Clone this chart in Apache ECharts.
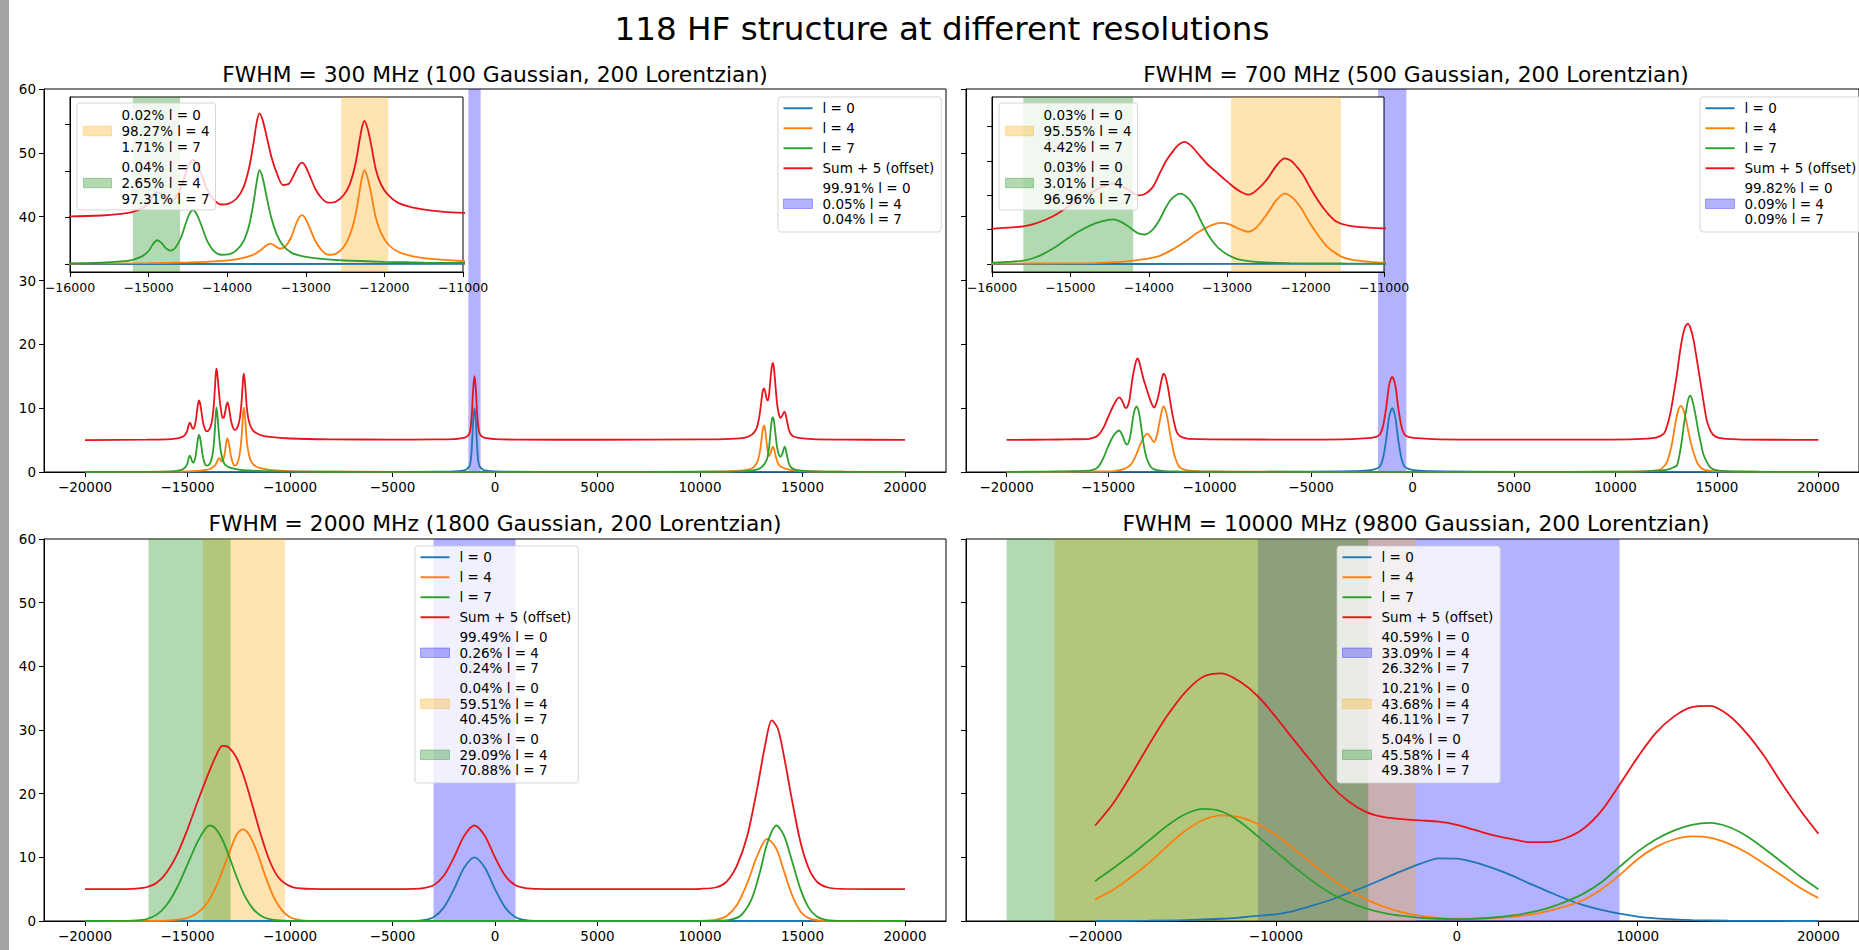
<!DOCTYPE html>
<html><head><meta charset="utf-8">
<script src="https://cdn.jsdelivr.net/npm/echarts@6/dist/echarts.min.js"></script>
<style>html,body{margin:0;padding:0;background:#fff;overflow:hidden}
#strip{position:absolute;left:0;top:0;width:9px;height:950px;background:#a3a3a3}
#c{position:absolute;left:0;top:0;width:1859px;height:950px}</style>
</head><body><div id="strip"></div><div id="c"></div>
<script>
// ---------------- tick labels ----------------
const xTicksMain = [-20000,-15000,-10000,-5000,0,5000,10000,15000,20000];
const xTicksWide = [-20000,-10000,0,10000,20000];
const xTicksInset = [-16000,-15000,-14000,-13000,-12000,-11000];
const yTicksInset300 = [0,5,10,15];
const yTicksInset700 = [0,5,10,15,20];

// ---------------- FWHM 300 ----------------
const blue300 = [[-20000,0],[-10000,0.01],[-5000,0.02],[-3000,0.04],[-2000,0.1],[-1600,0.2],[-1400,0.4],[-1250,0.9],[-1180,1.8],[-1125,4.2],[-1080,7.2],[-1040,9.0],[-1000,10],[-960,9.0],[-920,7.2],[-875,4.2],[-820,1.8],[-750,0.9],[-600,0.4],[-400,0.2],[0,0.1],[1000,0.04],[3000,0.02],[10000,0.01],[20000,0]];
const orange300 = [[-20000,0],[-17000,0.03],[-16000,0.05],[-15000,0.1],[-14500,0.18],[-14100,0.32],[-13850,0.55],[-13680,0.95],[-13580,1.45],[-13510,1.95],[-13450,2.2],[-13390,1.95],[-13330,1.65],[-13260,1.9],[-13190,2.8],[-13130,4.2],[-13085,5.0],[-13050,5.26],[-13010,4.95],[-12950,3.9],[-12880,2.5],[-12800,1.5],[-12715,1.0],[-12620,1.1],[-12520,1.8],[-12440,3.1],[-12370,5.2],[-12320,7.6],[-12285,9.3],[-12255,10.1],[-12215,9.3],[-12170,7.6],[-12110,5.0],[-12040,3.3],[-11950,2.1],[-11830,1.35],[-11650,0.85],[-11400,0.55],[-11000,0.33],[-10000,0.15],[-8000,0.06],[-5000,0.03],[0,0.02],[5000,0.02],[10000,0.05],[11500,0.12],[12200,0.3],[12550,0.6],[12750,1.3],[12880,2.5],[12980,4.5],[13050,6.5],[13090,7.1],[13125,7.26],[13170,6.8],[13230,5.2],[13300,3.3],[13370,2.5],[13440,2.9],[13510,3.7],[13560,3.97],[13610,3.6],[13690,2.5],[13780,1.55],[13880,1.0],[14000,0.75],[14200,0.5],[14500,0.3],[15000,0.16],[16000,0.08],[18000,0.03],[20000,0.01]];
const green300 = [[-20000,0],[-17000,0.03],[-16000,0.07],[-15600,0.14],[-15350,0.28],[-15200,0.46],[-15080,0.85],[-15000,1.4],[-14940,2.2],[-14890,2.56],[-14840,2.3],[-14780,1.7],[-14720,1.45],[-14660,1.75],[-14590,2.8],[-14530,4.3],[-14480,5.4],[-14435,5.8],[-14390,5.4],[-14330,4.2],[-14260,2.6],[-14180,1.5],[-14080,1.0],[-13980,1.05],[-13880,1.5],[-13790,2.5],[-13720,4.2],[-13665,6.6],[-13625,8.8],[-13590,10.1],[-13550,9.3],[-13500,7.3],[-13440,5.0],[-13370,3.2],[-13290,2.0],[-13180,1.2],[-13050,0.85],[-12860,0.6],[-12500,0.38],[-12000,0.24],[-11500,0.16],[-11000,0.12],[-10000,0.07],[-8000,0.04],[-5000,0.02],[0,0.02],[5000,0.02],[10000,0.04],[12000,0.1],[12500,0.2],[12800,0.4],[13000,0.75],[13150,1.3],[13284,2.2],[13360,3.6],[13420,5.6],[13480,7.6],[13530,8.5],[13565,8.57],[13610,7.9],[13680,6.0],[13760,3.9],[13850,2.7],[13930,2.4],[14010,2.8],[14080,3.6],[14130,3.97],[14180,3.6],[14250,2.5],[14330,1.4],[14420,0.8],[14550,0.48],[14800,0.25],[15500,0.1],[17000,0.04],[20000,0.01]];
const sum300 = [[-20000,5.0],[-17000,5.06],[-16000,5.12],[-15600,5.22],[-15350,5.4],[-15200,5.6],[-15080,6.0],[-15000,6.6],[-14940,7.4],[-14890,7.75],[-14840,7.5],[-14780,6.95],[-14720,6.75],[-14660,7.1],[-14590,8.2],[-14530,9.7],[-14480,10.8],[-14435,11.2],[-14390,10.8],[-14330,9.7],[-14260,8.1],[-14180,7.0],[-14080,6.4],[-13980,6.5],[-13880,7.05],[-13790,8.3],[-13720,10.4],[-13665,13.0],[-13625,15.2],[-13590,16.2],[-13550,15.5],[-13500,13.8],[-13440,11.6],[-13370,9.8],[-13290,8.5],[-13220,8.6],[-13150,9.6],[-13090,10.6],[-13050,10.9],[-13010,10.6],[-12950,9.5],[-12880,8.1],[-12800,7.1],[-12715,6.6],[-12620,6.7],[-12520,7.4],[-12440,8.6],[-12370,10.7],[-12320,13.1],[-12285,14.7],[-12255,15.4],[-12215,14.6],[-12170,12.9],[-12110,10.2],[-12040,8.5],[-11950,7.4],[-11830,6.6],[-11650,6.1],[-11400,5.75],[-11000,5.5],[-10000,5.25],[-8000,5.12],[-5000,5.08],[-3000,5.1],[-2000,5.15],[-1600,5.3],[-1400,5.5],[-1250,6.0],[-1180,7.2],[-1125,9.3],[-1080,12.2],[-1040,14.0],[-1000,15.0],[-960,14.0],[-920,12.2],[-875,9.3],[-820,7.2],[-750,6.0],[-600,5.5],[-400,5.3],[0,5.15],[1000,5.08],[5000,5.05],[10000,5.1],[11500,5.2],[12200,5.4],[12550,5.9],[12750,6.8],[12880,8.4],[12980,10.7],[13050,12.5],[13125,13.1],[13190,12.4],[13260,11.4],[13320,11.2],[13390,12.8],[13450,15.0],[13510,16.6],[13561,17.1],[13610,16.2],[13680,13.6],[13760,10.7],[13850,9.0],[13930,8.5],[14010,8.8],[14080,9.3],[14130,9.4],[14180,9.0],[14250,7.9],[14330,6.7],[14420,6.0],[14550,5.6],[14800,5.35],[15500,5.15],[17000,5.08],[20000,5.02]];

// ---------------- FWHM 700 ----------------
const blue700 = [[-20000,0],[-10000,0.02],[-5000,0.06],[-3000,0.12],[-2200,0.25],[-1800,0.5],[-1600,0.9],[-1450,2.2],[-1300,5.0],[-1150,8.6],[-1000,10],[-850,8.6],[-700,5.0],[-550,2.2],[-400,0.9],[-200,0.5],[200,0.25],[1000,0.12],[3000,0.06],[8000,0.02],[20000,0]];
const orange700 = [[-20000,0.01],[-17000,0.04],[-16000,0.06],[-15000,0.1],[-14712,0.14],[-14500,0.25],[-14286,0.4],[-14100,0.65],[-13950,0.95],[-13861,1.2],[-13700,2.1],[-13521,3.4],[-13400,4.4],[-13266,5.3],[-13160,5.8],[-13075,6.0],[-12980,5.8],[-12883,5.3],[-12800,4.9],[-12735,4.7],[-12640,5.2],[-12543,6.5],[-12450,8.0],[-12373,9.3],[-12267,10.26],[-12160,9.6],[-12050,8.0],[-11948,6.0],[-11840,4.2],[-11735,2.65],[-11620,1.6],[-11523,0.96],[-11400,0.6],[-11200,0.35],[-11000,0.2],[-10500,0.12],[-9000,0.06],[-5000,0.03],[5000,0.03],[10000,0.06],[11500,0.15],[12000,0.25],[12217,0.4],[12400,0.9],[12543,1.6],[12680,3.0],[12788,4.5],[12910,6.8],[13032,8.9],[13130,10.0],[13228,10.35],[13330,9.9],[13440,8.7],[13560,6.9],[13684,5.0],[13850,3.0],[14010,1.6],[14170,0.8],[14336,0.4],[14600,0.2],[15200,0.1],[17000,0.04],[20000,0.02]];
const green700 = [[-20000,0.02],[-18000,0.06],[-17000,0.1],[-16500,0.14],[-16000,0.2],[-15800,0.3],[-15600,0.5],[-15450,0.95],[-15350,1.45],[-15200,2.4],[-15050,3.6],[-14900,4.7],[-14750,5.6],[-14600,6.2],[-14456,6.5],[-14350,6.1],[-14240,5.3],[-14140,4.5],[-14050,4.3],[-13950,5.0],[-13860,6.5],[-13780,8.3],[-13700,9.6],[-13593,10.26],[-13500,9.6],[-13420,8.3],[-13340,6.4],[-13260,4.6],[-13180,3.2],[-13100,2.2],[-13000,1.4],[-12880,0.75],[-12750,0.45],[-12590,0.28],[-12200,0.14],[-11500,0.08],[-11000,0.06],[-10000,0.04],[-5000,0.02],[5000,0.02],[10000,0.04],[11500,0.1],[12300,0.25],[12700,0.5],[12900,0.8],[13032,1.05],[13150,2.6],[13276,5.0],[13380,7.6],[13488,9.7],[13580,11.3],[13684,11.96],[13790,11.2],[13929,9.2],[14060,6.8],[14206,4.5],[14340,2.7],[14499,1.6],[14650,0.8],[14825,0.4],[15100,0.2],[16000,0.08],[18000,0.03],[20000,0.02]];
const sum700 = [[-20000,5.03],[-18000,5.07],[-17000,5.12],[-16000,5.15],[-15800,5.3],[-15600,5.5],[-15450,5.9],[-15350,6.3],[-15200,7.1],[-15050,8.2],[-14900,9.3],[-14754,10.3],[-14600,11.2],[-14456,11.7],[-14350,11.4],[-14243,10.7],[-14137,10.0],[-14050,10.2],[-13950,11.2],[-13861,13.2],[-13780,15.0],[-13700,16.3],[-13620,17.4],[-13542,17.8],[-13460,17.2],[-13351,15.8],[-13250,14.5],[-13139,13.4],[-13030,12.3],[-12926,11.3],[-12822,10.5],[-12722,10.1],[-12620,10.8],[-12501,12.2],[-12400,13.9],[-12330,14.9],[-12267,15.4],[-12180,15.0],[-12100,14.0],[-12033,13.0],[-11930,10.9],[-11820,8.9],[-11720,7.4],[-11608,6.2],[-11450,5.6],[-11200,5.3],[-11000,5.2],[-10000,5.12],[-5000,5.08],[-3000,5.15],[-2200,5.3],[-1800,5.5],[-1600,5.9],[-1450,7.2],[-1300,10.0],[-1150,13.6],[-1000,14.9],[-850,13.6],[-700,10.0],[-550,7.2],[-400,5.9],[-200,5.5],[200,5.3],[1000,5.15],[3000,5.08],[8000,5.06],[11000,5.15],[12000,5.4],[12380,6.0],[12550,7.3],[12706,9.2],[12870,12.2],[13032,15.4],[13150,18.2],[13276,20.7],[13420,22.6],[13570,23.2],[13700,22.5],[13847,20.7],[14010,17.6],[14173,14.4],[14340,11.0],[14499,8.1],[14660,6.6],[14825,5.8],[15100,5.35],[16000,5.12],[18000,5.05],[20000,5.04]];

// ---------------- FWHM 2000 ----------------
const blue2000 = [[-20000,0],[-5000,0],[-4000,0.02],[-3500,0.12],[-3000,0.6],[-2500,2.1],[-2000,5.0],[-1500,8.4],[-1000,10.0],[-500,8.4],[0,5.0],[500,2.1],[1000,0.6],[1500,0.12],[2000,0.02],[3000,0],[20000,0]];
const orange2000 = [[-20000,0],[-16500,0.02],[-16000,0.06],[-15500,0.2],[-15000,0.5],[-14500,1.3],[-14000,3.0],[-13500,6.2],[-13000,10.4],[-12600,13.6],[-12300,14.4],[-12000,13.6],[-11600,10.8],[-11200,7.0],[-10800,3.8],[-10400,1.7],[-10000,0.6],[-9500,0.15],[-9000,0.03],[-8000,0],[9000,0],[10000,0.02],[10800,0.2],[11300,0.8],[11800,2.5],[12300,5.9],[12800,10.3],[13278,12.9],[13700,11.5],[14100,7.8],[14500,4.0],[14900,1.5],[15300,0.45],[15800,0.08],[16500,0.01],[20000,0]];
const green2000 = [[-20000,0],[-18500,0.01],[-17500,0.1],[-17000,0.3],[-16500,1.0],[-16000,2.6],[-15500,5.3],[-15000,8.9],[-14500,12.5],[-14100,14.6],[-13900,15.0],[-13600,14.4],[-13300,12.8],[-13000,10.4],[-12600,6.9],[-12200,3.9],[-11800,1.9],[-11400,0.8],[-11000,0.3],[-10500,0.08],[-10000,0.02],[-9000,0],[10000,0],[10800,0.02],[11500,0.2],[12000,0.9],[12500,3.3],[12900,7.4],[13300,12.4],[13726,15.0],[14100,13.4],[14500,9.3],[14900,5.0],[15300,2.1],[15700,0.7],[16200,0.15],[17000,0.02],[20000,0]];
const sum2000 = [[-20000,5.0],[-18000,5.02],[-17500,5.1],[-17000,5.3],[-16500,6.0],[-16000,7.7],[-15500,10.5],[-15000,14.4],[-14500,18.8],[-14000,23.0],[-13600,26.0],[-13300,27.5],[-13000,27.3],[-12600,25.6],[-12200,22.2],[-11800,17.8],[-11400,13.3],[-11000,9.5],[-10600,7.0],[-10200,5.8],[-9800,5.25],[-9000,5.05],[-6000,5.0],[-4000,5.05],[-3500,5.15],[-3000,5.6],[-2500,7.1],[-2000,10.0],[-1500,13.4],[-1000,15.0],[-500,13.4],[0,10.0],[500,7.1],[1000,5.6],[1500,5.15],[2000,5.05],[3000,5.0],[9000,5.0],[10000,5.05],[10800,5.3],[11300,6.2],[11800,8.7],[12300,13.3],[12800,21.0],[13200,28.0],[13500,31.5],[13800,30.2],[14100,25.8],[14500,18.8],[14900,12.4],[15300,8.3],[15700,6.2],[16200,5.3],[17000,5.04],[20000,5.0]];

// ---------------- FWHM 10000 ----------------
const blue10000 = [[-20000,0.01],[-17000,0.05],[-15000,0.13],[-13000,0.35],[-12000,0.55],[-11000,0.8],[-10000,1.05],[-9000,1.6],[-8000,2.4],[-7000,3.3],[-6000,4.4],[-5000,5.5],[-4000,6.7],[-3000,7.9],[-2000,9.0],[-1000,9.85],[0,9.8],[1000,9.2],[2000,8.3],[3000,7.2],[4000,5.9],[5000,4.7],[6000,3.5],[7000,2.5],[8000,1.75],[9000,1.15],[10000,0.7],[11000,0.42],[12000,0.25],[13000,0.14],[15000,0.04],[17000,0.01],[20000,0]];
const orange10000 = [[-20000,3.4],[-19000,4.9],[-18000,6.9],[-17000,9.2],[-16000,11.8],[-15000,14.2],[-14000,15.9],[-13000,16.6],[-12000,16.3],[-11000,15.2],[-10000,13.5],[-9000,11.3],[-8000,9.0],[-7000,6.8],[-6000,4.9],[-5000,3.4],[-4000,2.2],[-3000,1.35],[-2000,0.8],[-1000,0.5],[0,0.35],[1000,0.35],[2000,0.45],[3000,0.65],[4000,0.95],[5000,1.5],[6000,2.3],[7000,3.3],[8000,5.0],[9000,7.2],[10000,9.7],[11000,11.6],[12000,12.8],[13000,13.3],[14000,13.1],[15000,12.2],[16000,10.8],[17000,9.0],[18000,7.1],[19000,5.2],[20000,3.6]];
const green10000 = [[-20000,6.3],[-19000,8.3],[-18000,10.4],[-17000,12.7],[-16000,15.0],[-15000,16.8],[-14000,17.6],[-13000,17.2],[-12000,15.6],[-11000,13.3],[-10000,10.9],[-9000,8.5],[-8000,6.3],[-7000,4.4],[-6000,3.0],[-5000,1.95],[-4000,1.25],[-3000,0.8],[-2000,0.5],[-1000,0.35],[0,0.3],[1000,0.35],[2000,0.55],[3000,0.85],[4000,1.3],[5000,2.0],[6000,3.0],[7000,4.3],[8000,6.1],[9000,8.5],[10000,10.9],[11000,12.8],[12000,14.2],[13000,15.1],[14000,15.4],[15000,14.8],[16000,13.4],[17000,11.4],[18000,9.2],[19000,7.0],[20000,5.0]];
const sum10000 = [[-20000,15.0],[-19000,18.5],[-18000,23.0],[-17000,27.8],[-16000,32.3],[-15000,36.0],[-14000,38.4],[-13000,38.9],[-12000,37.6],[-11000,35.3],[-10000,32.0],[-9000,28.4],[-8000,24.9],[-7000,21.4],[-6000,18.8],[-5000,17.1],[-4000,16.3],[-3000,16.0],[-2000,15.8],[-1000,15.6],[0,15.1],[1000,14.3],[2000,13.5],[3000,12.9],[4000,12.4],[5000,12.4],[6000,13.0],[7000,14.5],[8000,17.3],[9000,21.4],[10000,25.7],[11000,29.5],[12000,32.1],[13000,33.6],[14000,33.8],[15000,32.4],[16000,29.6],[17000,25.9],[18000,21.5],[19000,17.4],[20000,13.7]];

// ---------------- shaded windows [from, to] ----------------
const spanBlue300 = [-1300,-700], spanOrange300 = [-12550,-11950], spanGreen300 = [-15200,-14600];
const spanBlue700 = [-1700,-300], spanOrange700 = [-12950,-11550], spanGreen700 = [-15600,-14200];
const spanBlue2000 = [-3000,1000], spanOrange2000 = [-14250,-10250], spanGreen2000 = [-16900,-12900];
const spanBlue10000 = [-11000,9000], spanOrange10000 = [-22250,-2250], spanGreen10000 = [-24900,-4900];

// ---------------- legend fractions ----------------
const fracBlue300 = ['99.91%','0.05%','0.04%'], fracOrange300 = ['0.02%','98.27%','1.71%'], fracGreen300 = ['0.04%','2.65%','97.31%'];
const fracBlue700 = ['99.82%','0.09%','0.09%'], fracOrange700 = ['0.03%','95.55%','4.42%'], fracGreen700 = ['0.03%','3.01%','96.96%'];
const fracBlue2000 = ['99.49%','0.26%','0.24%'], fracOrange2000 = ['0.04%','59.51%','40.45%'], fracGreen2000 = ['0.03%','29.09%','70.88%'];
const fracBlue10000 = ['40.59%','33.09%','26.32%'], fracOrange10000 = ['10.21%','43.68%','46.11%'], fracGreen10000 = ['5.04%','45.58%','49.38%'];

const seriesNames = ['l = 0','l = 4','l = 7','Sum + 5 (offset)'];
const titles = ['FWHM = 300 MHz (100 Gaussian, 200 Lorentzian)','FWHM = 700 MHz (500 Gaussian, 200 Lorentzian)','FWHM = 2000 MHz (1800 Gaussian, 200 Lorentzian)','FWHM = 10000 MHz (9800 Gaussian, 200 Lorentzian)'];
const mainTitle = '118 HF structure at different resolutions';

// ---------------- styling / layout ----------------
const FONT = "'DejaVu Sans', sans-serif";
const COL = ['#1f77b4','#ff7f0e','#2ca02c','#e8141c'];
const SPANCOL = {b:'rgba(0,0,255,0.3)', o:'rgba(255,165,0,0.3)', g:'rgba(0,128,0,0.3)'};
const fracName = fr => fr.map((f,i)=>f+' '+seriesNames[i]).join('\n');
const fmt = v => v < 0 ? '\u2212' + Math.abs(v) : String(v);

const grids = [
  {left:44, top:89, width:902, height:383},
  {left:966, top:89, width:901, height:383},
  {left:44, top:539, width:902, height:382},
  {left:966, top:539, width:901, height:382},
  {left:70, top:97, width:393, height:175},
  {left:992, top:97, width:392, height:175}
];
const panels = [
  {curves:[blue300,orange300,green300,sum300], xr:[-22000,22000], ticks:xTicksMain, ylab:true,
   spans:[['b',spanBlue300,fracBlue300]], legend:{left:778, top:97}},
  {curves:[blue700,orange700,green700,sum700], xr:[-22000,22000], ticks:xTicksMain, ylab:false,
   spans:[['b',spanBlue700,fracBlue700]], legend:{left:1700, top:97}},
  {curves:[blue2000,orange2000,green2000,sum2000], xr:[-22000,22000], ticks:xTicksMain, ylab:true,
   spans:[['b',spanBlue2000,fracBlue2000],['o',spanOrange2000,fracOrange2000],['g',spanGreen2000,fracGreen2000]], legend:{left:415, top:546}},
  {curves:[blue10000,orange10000,green10000,sum10000], xr:[-27145,22245], ticks:xTicksWide, ylab:false,
   spans:[['b',spanBlue10000,fracBlue10000],['o',spanOrange10000,fracOrange10000],['g',spanGreen10000,fracGreen10000]], legend:{left:1337, top:546}}
];
const insets = [
  {of:0, yr:[-0.855,17.96], yt:yTicksInset300, spans:[['o',spanOrange300,fracOrange300],['g',spanGreen300,fracGreen300]], legend:{left:77, top:103}},
  {of:1, yr:[-1.16,24.33], yt:yTicksInset700, spans:[['o',spanOrange700,fracOrange700],['g',spanGreen700,fracGreen700]], legend:{left:999, top:103}}
];

const axisLineStyle = {color:'#000', width:1};
const xAxes = [], yAxes = [], series = [], legends = [], gridOpts = [];
grids.forEach((g,i)=>{
  const inset = i >= 4;
  gridOpts.push(Object.assign({show:true, borderColor:'#000', borderWidth:1,
    backgroundColor: inset ? '#fff' : 'transparent', z: inset ? 5 : 0}, g));
});

function lineSer(name, data, color, ai, z){
  return {type:'line', name, data, xAxisIndex:ai, yAxisIndex:ai, symbol:'none', smooth:0.3,
    lineStyle:{color, width:1.8}, itemStyle:{color}, z, silent:true, clip:true};
}
function spanSer(key, range, frac, ai, z){
  const c = SPANCOL[key];
  return {type:'line', name:fracName(frac), data:[], xAxisIndex:ai, yAxisIndex:ai, symbol:'none',
    itemStyle:{color:c}, lineStyle:{color:c}, silent:true,
    markArea:{silent:true, z, label:{show:false}, itemStyle:{color:c, borderWidth:0},
      data:[[{xAxis:range[0]},{xAxis:range[1]}]]}};
}
function legendOpt(pos, names, spanDefs, inset){
  const data = names.map(n=>({name:n, icon:'path://M0,0H30V2H0Z'}));
  spanDefs.forEach(s=>data.push({name:fracName(s[2]), icon:'rect',
    itemStyle:{color:SPANCOL[s[0]], borderColor:SPANCOL[s[0]], borderWidth:1}}));
  return {orient:'vertical', left:pos.left, top:pos.top, data, selectedMode:false, z:20,
    itemWidth: inset ? 28 : 29, itemHeight:9.5, itemGap: inset ? 4 : 4.5,
    padding: inset ? [4,6,3,6] : [3.5,7,5,5],
    backgroundColor:'rgba(255,255,255,0.8)', borderColor:'rgba(204,204,204,0.8)', borderWidth:1, borderRadius:3,
    textStyle:{fontFamily:FONT, fontSize:13.5, lineHeight: inset ? 16 : 15.5, color:'#000', padding:[0,0,0,5]}};
}

panels.forEach((p,i)=>{
  xAxes.push({type:'value', gridIndex:i, min:p.xr[0], max:p.xr[1],
    axisLine:{onZero:false, lineStyle:axisLineStyle},
    axisTick:{length:5, lineStyle:axisLineStyle, customValues:p.ticks},
    axisLabel:{customValues:p.ticks, formatter:fmt, fontFamily:FONT, fontSize:13.5, color:'#000', margin:8},
    splitLine:{show:false}});
  yAxes.push({type:'value', gridIndex:i, min:0, max:60, interval:10,
    axisLine:{show:true, onZero:false, lineStyle:axisLineStyle},
    axisTick:{show:true, length:5, lineStyle:axisLineStyle},
    axisLabel:{show:p.ylab, fontFamily:FONT, fontSize:13.5, color:'#000', margin:8},
    splitLine:{show:false}});
  p.spans.forEach(s=>series.push(spanSer(s[0], s[1], s[2], i, 1)));
  p.curves.forEach((d,k)=>series.push(lineSer(seriesNames[k], d, COL[k], i, 2)));
  legends.push(legendOpt(p.legend, seriesNames, p.spans, false));
});
insets.forEach((s,j)=>{
  const ai = 4 + j, p = panels[s.of];
  xAxes.push({type:'value', gridIndex:ai, min:-16000, max:-11000, z:6,
    axisLine:{onZero:false, lineStyle:axisLineStyle},
    axisTick:{length:5, lineStyle:axisLineStyle, customValues:xTicksInset},
    axisLabel:{customValues:xTicksInset, formatter:fmt, fontFamily:FONT, fontSize:12.5, color:'#000', margin:9},
    splitLine:{show:false}});
  yAxes.push({type:'value', gridIndex:ai, min:s.yr[0], max:s.yr[1], z:6,
    axisLine:{show:true, onZero:false, lineStyle:axisLineStyle},
    axisTick:{show:true, length:5, lineStyle:axisLineStyle, customValues:s.yt},
    axisLabel:{show:false}, splitLine:{show:false}});
  s.spans.forEach(sp=>series.push(spanSer(sp[0], sp[1], sp[2], ai, 6)));
  p.curves.forEach((d,k)=>series.push(lineSer(seriesNames[k], d, COL[k], ai, 7)));
  legends.push(legendOpt(s.legend, [], s.spans, true));
});

const graphics = [
  {type:'text', x:942, y:29, z:30, style:{text:mainTitle, font:'32.6px '+FONT, fill:'#000', align:'center', verticalAlign:'middle'}},
  {type:'text', x:495, y:74, z:30, style:{text:titles[0], font:'21.8px '+FONT, fill:'#000', align:'center', verticalAlign:'middle'}},
  {type:'text', x:1416, y:74, z:30, style:{text:titles[1], font:'21.8px '+FONT, fill:'#000', align:'center', verticalAlign:'middle'}},
  {type:'text', x:495, y:523, z:30, style:{text:titles[2], font:'21.8px '+FONT, fill:'#000', align:'center', verticalAlign:'middle'}},
  {type:'text', x:1416, y:523, z:30, style:{text:titles[3], font:'21.8px '+FONT, fill:'#000', align:'center', verticalAlign:'middle'}}
];

const chart = echarts.init(document.getElementById('c'), null, {renderer:'svg'});
chart.setOption({animation:false, backgroundColor:'transparent', grid:gridOpts, xAxis:xAxes, yAxis:yAxes,
  series, legend:legends, graphic:graphics});
</script></body></html>
